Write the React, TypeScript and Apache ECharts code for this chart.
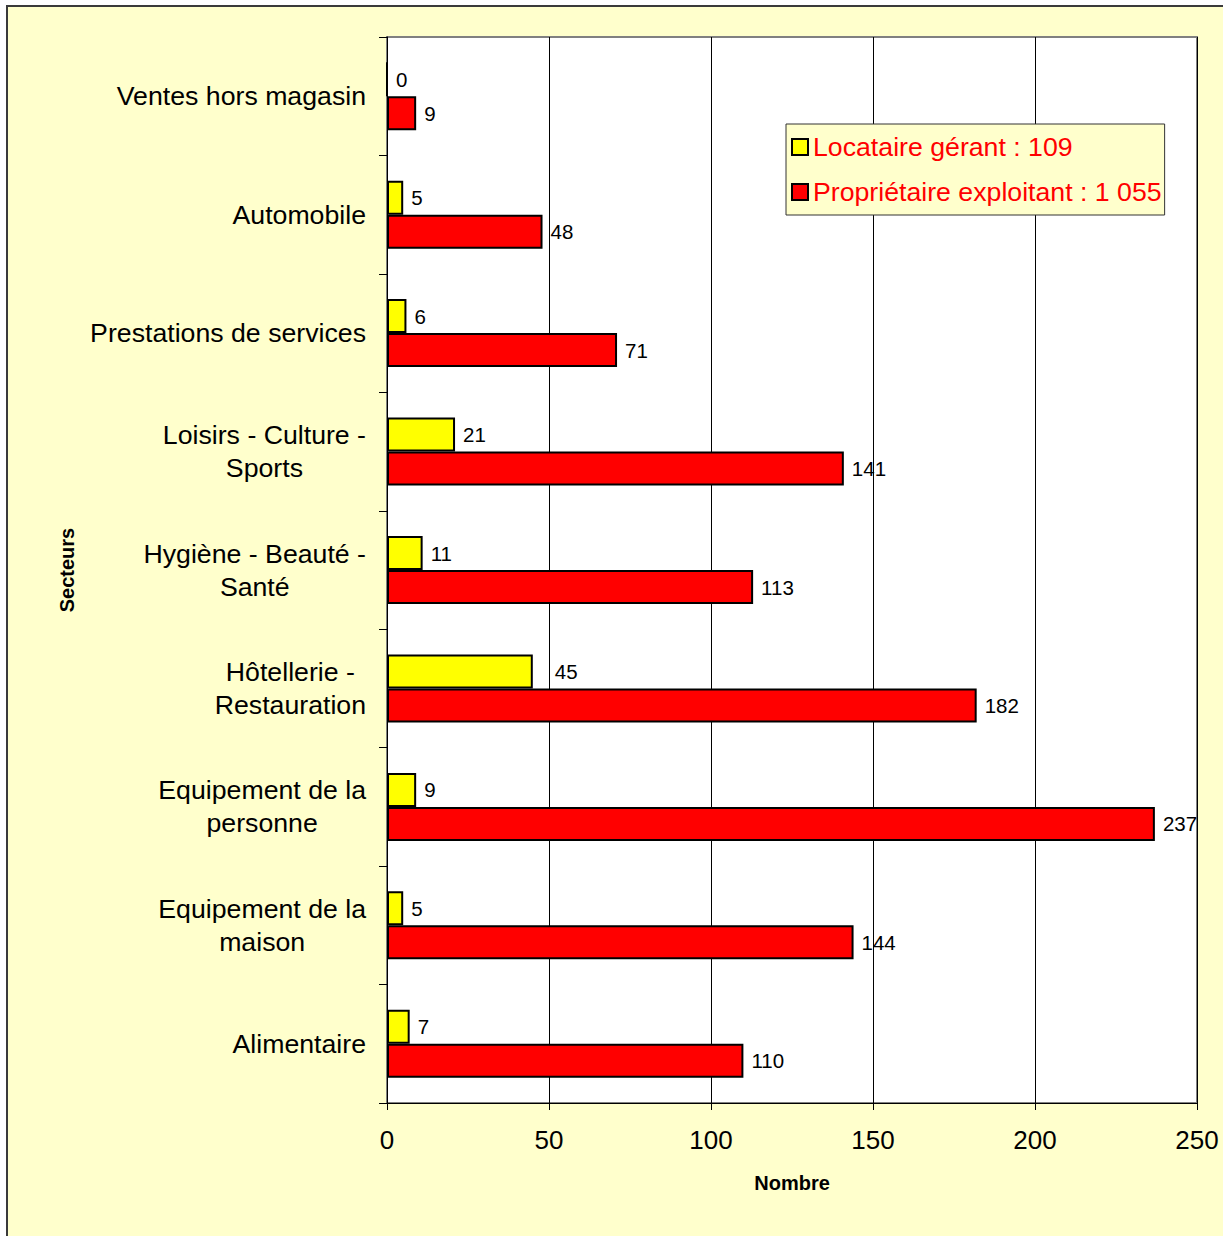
import React, { useEffect, useRef } from "react";
import * as echarts from "echarts";

const categories = [
  "Ventes hors magasin",
  "Automobile",
  "Prestations de services",
  "Loisirs - Culture -\nSports",
  "Hygiène - Beauté -\nSanté",
  "Hôtellerie -\nRestauration",
  "Equipement de la\npersonne",
  "Equipement de la\nmaison",
  "Alimentaire",
];
const locataire = [0, 5, 6, 21, 11, 45, 9, 5, 7];
const proprietaire = [9, 48, 71, 141, 113, 182, 237, 144, 110];
const xTicks = { min: 0, max: 250, interval: 50 };

const FONT = 'Arial, "Liberation Sans", sans-serif';

function fmtTotal(arr: number[]) {
  const s = arr.reduce((a, b) => a + b, 0).toString();
  return s.replace(/\B(?=(\d{3})+(?!\d))/g, " ");
}

export default function App() {
  const ref = useRef<HTMLDivElement>(null);
  useEffect(() => {
    document.body.style.margin = "0";
    const chart = echarts.init(ref.current!, null, { renderer: "svg" });
    const nameLoc = `Locataire gérant : ${fmtTotal(locataire)}`;
    const nameProp = `Propriétaire exploitant : ${fmtTotal(proprietaire)}`;
    const labelCommon = {
      show: true,
      position: "right" as const,
      distance: 8,
      fontSize: 20.5,
      color: "#000",
      fontFamily: FONT,
    };
    chart.setOption({
      animation: false,
      backgroundColor: "transparent",
      grid: {
        left: 387,
        top: 37,
        right: 26,
        bottom: 133,
        show: true,
        backgroundColor: "#FFFFFF",
        borderColor: "#808080",
        borderWidth: 2,
      },
      legend: {
        orient: "vertical",
        left: 786,
        top: 124,
        padding: [8, 3, 8, 5],
        itemGap: 15,
        itemWidth: 16,
        itemHeight: 16,
        icon: "rect",
        backgroundColor: "#FFFFCC",
        borderColor: "#333333",
        borderWidth: 1,
        textStyle: {
          fontSize: 26.7,
          color: "#FF0000",
          fontFamily: FONT,
          lineHeight: 30,
        },
        data: [nameLoc, nameProp],
      },
      xAxis: {
        type: "value",
        min: xTicks.min,
        max: xTicks.max,
        interval: xTicks.interval,
        name: "Nombre",
        nameLocation: "middle",
        nameGap: 70,
        nameTextStyle: {
          fontSize: 20,
          fontWeight: "bold",
          color: "#000",
          fontFamily: FONT,
        },
        axisLine: { show: true, lineStyle: { color: "#000", width: 1 } },
        axisTick: { show: true, inside: false, length: 7, lineStyle: { color: "#000" } },
        axisLabel: { fontSize: 26, color: "#000", fontFamily: FONT, margin: 24 },
        splitLine: { show: true, lineStyle: { color: "#000", width: 1 } },
      },
      yAxis: {
        type: "category",
        data: categories,
        inverse: true,
        name: "Secteurs",
        nameLocation: "middle",
        nameGap: 310,
        nameTextStyle: {
          fontSize: 20,
          fontWeight: "bold",
          color: "#000",
          fontFamily: FONT,
        },
        axisLine: { show: true, lineStyle: { color: "#000", width: 1 } },
        axisTick: { show: true, inside: false, length: 8, lineStyle: { color: "#000" } },
        axisLabel: {
          align: "right",
          margin: 21,
          formatter: (v: string) =>
            v
              .split("\n")
              .map((l) => `{c|${l}}`)
              .join("\n"),
          rich: {
            c: {
              align: "center",
              fontSize: 26.7,
              lineHeight: 33,
              color: "#000",
              fontFamily: FONT,
            },
          },
        },
        splitLine: { show: false },
      },
      series: [
        {
          name: nameLoc,
          type: "bar",
          data: locataire.map((v) =>
            v === Math.max(...locataire) ? { value: v, label: { distance: 22 } } : v
          ),
          barWidth: 34,
          barGap: "0%",
          itemStyle: { color: "#FFFF00", borderColor: "#000", borderWidth: 2 },
          label: labelCommon,
        },
        {
          name: nameProp,
          type: "bar",
          data: proprietaire,
          barWidth: 34,
          barGap: "0%",
          itemStyle: { color: "#FF0000", borderColor: "#000", borderWidth: 2 },
          label: labelCommon,
        },
      ],
    });
    return () => chart.dispose();
  }, []);
  return (
    <div
      style={{
        position: "fixed",
        left: 0,
        top: 0,
        width: 1223,
        height: 1236,
        overflow: "hidden",
        background: "#FFFFFF",
      }}
    >
      <div
        style={{
          position: "absolute",
          left: 6,
          top: 5,
          width: 1300,
          height: 1300,
          border: "2px solid #3a3a3a",
          background: "#FFFFCC",
        }}
      />
      <div
        ref={ref}
        style={{ position: "absolute", left: 0, top: 0, width: 1223, height: 1236 }}
      />
    </div>
  );
}
